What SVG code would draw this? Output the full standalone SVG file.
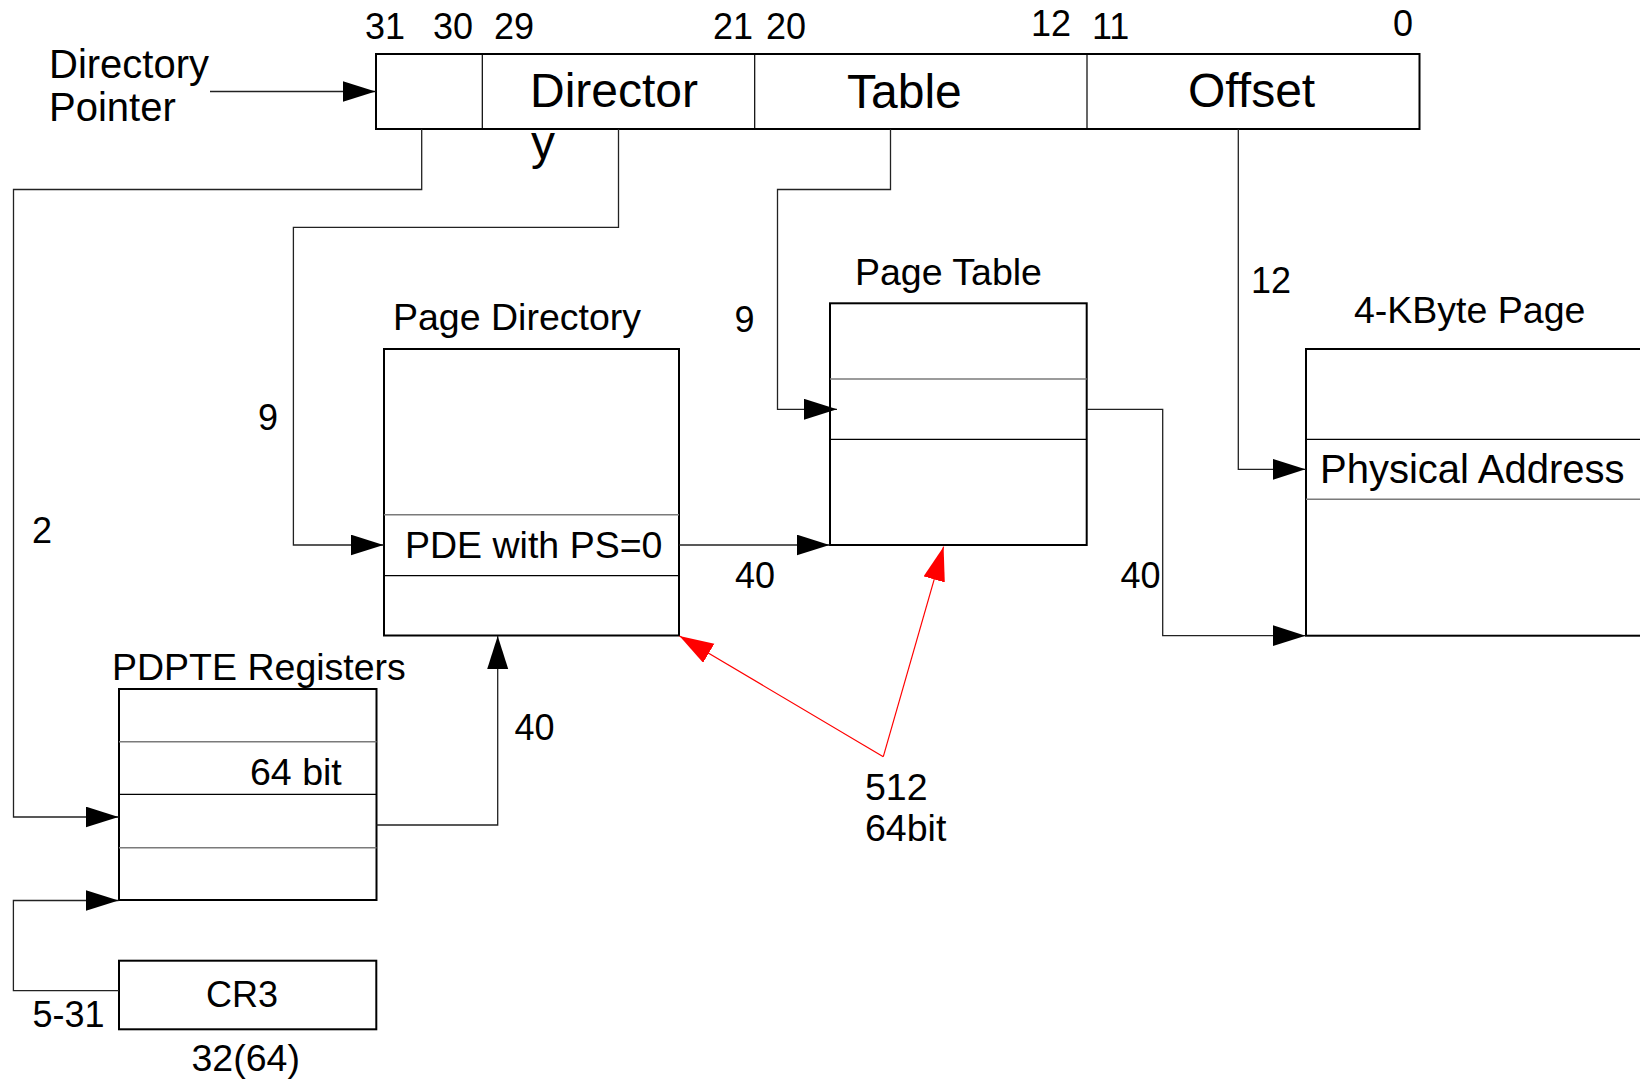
<svg xmlns="http://www.w3.org/2000/svg" width="1640" height="1080" viewBox="0 0 1640 1080">
  <defs>
    <marker id="arrow" markerUnits="userSpaceOnUse" markerWidth="34" markerHeight="22" refX="33" refY="10.5" orient="auto">
      <path d="M0,0 L33,10.5 L0,21 Z" fill="#000"/>
    </marker>
    <marker id="arrow-red" markerUnits="userSpaceOnUse" markerWidth="35" markerHeight="23" refX="34" refY="11" orient="auto">
      <path d="M0,0 L34,11 L0,22 Z" fill="#ff0000"/>
    </marker>
  </defs>
  <style>
    text { font-family: "Liberation Sans", Arial, sans-serif; fill: #000; }
    .lbl { font-size: 37.5px; }
    .num { font-size: 36px; }
    .bit { font-size: 36px; }
    .big { font-size: 48px; }
    .box { fill: #fff; stroke: #000; stroke-width: 2; }
    .row { stroke: #000; stroke-width: 1.2; fill: none; }
    .row-g { stroke: #7a7a7a; stroke-width: 1.5; fill: none; }
    .wire { stroke: #222; stroke-width: 1.3; fill: none; marker-end: url(#arrow); }
    .wire-red { stroke: #ff0000; stroke-width: 1.2; fill: none; marker-end: url(#arrow-red); }
  </style>

  <rect width="1640" height="1080" fill="#fff"/>

  <!-- linear address split into fields -->
  <g id="linear-address">
    <rect class="box" x="376" y="54" width="1043.5" height="75"/>
    <line class="row" x1="482.3" y1="54" x2="482.3" y2="129"/>
    <line class="row" x1="754.7" y1="54" x2="754.7" y2="129"/>
    <line class="row" x1="1087" y1="54" x2="1087" y2="129"/>
    <text class="big" x="530" y="106.7">Director</text>
    <text class="big" x="531" y="159">y</text>
    <text class="big" x="847" y="107.5">Table</text>
    <text class="big" x="1188" y="106.7">Offset</text>
    <text class="bit" x="365" y="38.5">31</text>
    <text class="bit" x="433" y="38.5">30</text>
    <text class="bit" x="494" y="38.5">29</text>
    <text class="bit" x="713" y="38.5">21</text>
    <text class="bit" x="766" y="38.5">20</text>
    <text class="bit" x="1031" y="36">12</text>
    <text class="bit" x="1092" y="38.5">11</text>
    <text class="bit" x="1393" y="35.5">0</text>
  </g>

  <g id="directory-pointer-label">
    <text x="49" y="78" font-size="40">Directory</text>
    <text x="49" y="120.5" font-size="40">Pointer</text>
  </g>

  <g id="page-directory">
    <text class="lbl" x="393" y="330">Page Directory</text>
    <rect class="box" x="384" y="349" width="295" height="286.5"/>
    <line class="row-g" x1="384" y1="514.7" x2="679" y2="514.7"/>
    <line class="row" x1="384" y1="575.7" x2="679" y2="575.7"/>
    <text class="lbl" x="405" y="558.3">PDE with PS=0</text>
  </g>

  <g id="page-table">
    <text class="lbl" x="855" y="285">Page Table</text>
    <rect class="box" x="830" y="303.3" width="256.7" height="241.7"/>
    <line class="row-g" x1="830" y1="379" x2="1086.7" y2="379"/>
    <line class="row" x1="830" y1="439.3" x2="1086.7" y2="439.3"/>
  </g>

  <g id="page-4k">
    <text class="lbl" x="1354" y="323">4-KByte Page</text>
    <rect class="box" x="1306" y="349" width="400" height="286.7"/>
    <line class="row" x1="1306" y1="439.3" x2="1640" y2="439.3"/>
    <line class="row-g" x1="1306" y1="499.3" x2="1640" y2="499.3"/>
    <text x="1320" y="483.3" font-size="40">Physical Address</text>
  </g>

  <g id="pdpte-registers">
    <text class="lbl" x="112" y="680">PDPTE Registers</text>
    <rect class="box" x="119" y="689" width="257.5" height="211"/>
    <line class="row-g" x1="119" y1="741.7" x2="376.5" y2="741.7"/>
    <line class="row" x1="119" y1="794.3" x2="376.5" y2="794.3"/>
    <line class="row-g" x1="119" y1="847.7" x2="376.5" y2="847.7"/>
    <text class="lbl" x="250" y="785">64 bit</text>
  </g>

  <g id="cr3">
    <rect class="box" x="119" y="960.7" width="257.3" height="68.6"/>
    <text class="num" x="206" y="1006.5">CR3</text>
    <text class="lbl" x="191.5" y="1071">32(64)</text>
  </g>

  <g id="entries-note">
    <text class="lbl" x="865" y="800">512</text>
    <text class="lbl" x="865" y="841">64bit</text>
  </g>

  <!-- connectors -->
  <g id="connectors">
    <path class="wire" d="M210,91.5 H375.5"/>
    <path class="wire" d="M421.7,129 V189.5 H13.5 V817 H118.5"/>
    <path class="wire" d="M618.5,129 V227.3 H293.4 V545 H383.5"/>
    <path class="wire" d="M890.5,129 V189.5 H777.5 V409.3 H837"/>
    <path class="wire" d="M1238.3,129 V469.3 H1305.5"/>
    <path class="wire" d="M679,545 H829.5"/>
    <path class="wire" d="M1087,409.3 H1162.7 V635.7 H1305.5"/>
    <path class="wire" d="M376.5,825 H497.7 V636"/>
    <path class="wire" d="M119,990.7 H13.4 V900.5 H118.5"/>
    <path class="wire-red" d="M883.3,756.7 L679.5,636"/>
    <path class="wire-red" d="M883.3,756.7 L943.6,546.7"/>

    <text class="num" x="258" y="430">9</text>
    <text class="num" x="32" y="543">2</text>
    <text class="num" x="734.5" y="332">9</text>
    <text class="num" x="1251" y="293">12</text>
    <text class="num" x="735" y="588">40</text>
    <text class="num" x="1120.5" y="588">40</text>
    <text class="num" x="514.5" y="740">40</text>
    <text class="num" x="32.5" y="1026.7">5-31</text>
  </g>
</svg>
